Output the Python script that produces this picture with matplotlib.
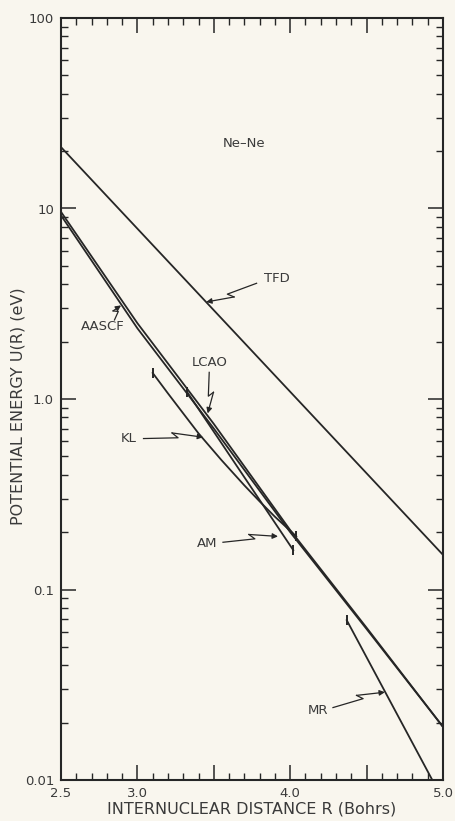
import matplotlib
matplotlib.use("Agg")
import matplotlib.pyplot as plt
import numpy as np
from matplotlib.ticker import FixedLocator, MultipleLocator, LogLocator, NullFormatter

# - - - Data (R in Bohrs, U in eV) - - - #
tfd_r = [2.5, 5.0]
tfd_u = [21.0, 0.152]

aascf_r = [2.5, 3.0, 3.5, 4.0, 4.5, 5.0]
aascf_u = [9.6, 2.5, 0.74, 0.205, 0.063, 0.019]

lcao_r = [2.5, 3.0, 3.5, 4.0, 4.5, 5.0]
lcao_u = [9.2, 2.35, 0.70, 0.20, 0.062, 0.019]

kl_r = [3.10, 3.20, 3.30, 3.40, 3.55, 3.70, 3.80, 3.90, 4.04]
kl_u = [1.37, 1.07, 0.84, 0.66, 0.478, 0.352, 0.29, 0.241, 0.19]

am_r = [3.325, 4.02]
am_u = [1.09, 0.161]

mr_r = [4.37, 4.93]
mr_u = [0.069, 0.010]

x_ticks = [2.5, 3.0, 3.5, 4.0, 4.5, 5.0]
x_labels = ['2.5', '3.0', '', '4.0', '', '5.0']
y_ticks = [0.01, 0.1, 1.0, 10, 100]
y_labels = ['0.01', '0.1', '1.0', '10', '100']

bg = '#f9f6ee'
ink = '#262626'
txt = '#3a3a3a'

plt.rcParams['font.family'] = ['DejaVu Sans']

fig = plt.figure(figsize=(4.56, 8.21), dpi=100, facecolor=bg)
ax = fig.add_axes([61 / 456, 1 - 780 / 821, 382 / 456, 762 / 821])
ax.set_facecolor(bg)

# - - - curves - - - #
lw = 1.3
ax.plot(tfd_r, tfd_u, color=ink, lw=lw)
ax.plot(aascf_r, aascf_u, color=ink, lw=lw)
ax.plot(lcao_r, lcao_u, color=ink, lw=lw)
ax.plot(kl_r, kl_u, color=ink, lw=lw, marker='|', markevery=[0, -1], ms=7, mew=1.4)
ax.plot(am_r, am_u, color=ink, lw=lw, marker='|', markevery=[0, -1], ms=7, mew=1.4)
ax.plot(mr_r, mr_u, color=ink, lw=lw, marker='|', markevery=[0], ms=7, mew=1.4)

# - - - axes - - - #
ax.set_yscale('log')
ax.set_xlim(2.5, 5.0)
ax.set_ylim(0.01, 100)

ax.xaxis.set_major_locator(FixedLocator(x_ticks))
ax.set_xticklabels(x_labels)
ax.xaxis.set_minor_locator(MultipleLocator(0.1))
ax.yaxis.set_major_locator(FixedLocator(y_ticks))
ax.set_yticklabels(y_labels)
ax.yaxis.set_minor_locator(LogLocator(base=10, subs=range(2, 10)))
ax.yaxis.set_minor_formatter(NullFormatter())

ax.tick_params(which='both', direction='in', top=True, right=True,
               color=ink, labelcolor=txt, labelsize=9.5)
ax.tick_params(which='major', length=10.5, width=1.1, pad=5)
ax.tick_params(which='minor', length=5, width=1.0)
for s in ax.spines.values():
    s.set_linewidth(1.5)
    s.set_color(ink)

ax.set_xlabel('INTERNUCLEAR DISTANCE R (Bohrs)', fontsize=11.5, color=txt, labelpad=1)
ax.set_ylabel('POTENTIAL ENERGY U(R) (eV)', fontsize=11.5, color=txt)
ax.yaxis.set_label_coords(-0.092, 0.49)


# - - - zigzag pointers - - - #
def pointer(ax, start, tip):
    to_disp = ax.transData.transform
    p0 = np.array(to_disp(start))
    p3 = np.array(to_disp(tip))
    d = p3 - p0
    n = np.array([-d[1], d[0]]) / np.hypot(*d)
    p1 = p0 + 0.58 * d
    p2 = p0 + 0.48 * d + 5 * n
    back = ax.transData.inverted().transform
    pts = back(np.array([p0, p1, p2]))
    ax.plot(pts[:, 0], pts[:, 1], color=ink, lw=0.9)
    ax.annotate('', xy=tip, xytext=tuple(pts[2]),
                arrowprops=dict(arrowstyle='-|>', color=ink, lw=0.9,
                                mutation_scale=8, shrinkA=0, shrinkB=0))


fs = 9.5
ax.text(3.70, 22.0, 'Ne\u2013Ne', fontsize=fs, color=txt, ha='center', va='center')
ax.text(3.91, 4.27, 'TFD', fontsize=fs, color=txt, ha='center', va='center')
pointer(ax, (3.78, 4.05), (3.45, 3.23))
ax.text(2.775, 2.4, 'AASCF', fontsize=fs, color=txt, ha='center', va='center')
pointer(ax, (2.85, 2.6), (2.893, 3.1))
ax.text(3.47, 1.55, 'LCAO', fontsize=fs, color=txt, ha='center', va='center')
pointer(ax, (3.47, 1.38), (3.46, 0.84))
ax.text(2.94, 0.62, 'KL', fontsize=fs, color=txt, ha='center', va='center')
pointer(ax, (3.04, 0.62), (3.43, 0.63))
ax.text(3.455, 0.175, 'AM', fontsize=fs, color=txt, ha='center', va='center')
pointer(ax, (3.56, 0.177), (3.92, 0.19))
ax.text(4.18, 0.0233, 'MR', fontsize=fs, color=txt, ha='center', va='center')
pointer(ax, (4.28, 0.024), (4.62, 0.0289))

fig.savefig('out.png', dpi=100, facecolor=bg)
